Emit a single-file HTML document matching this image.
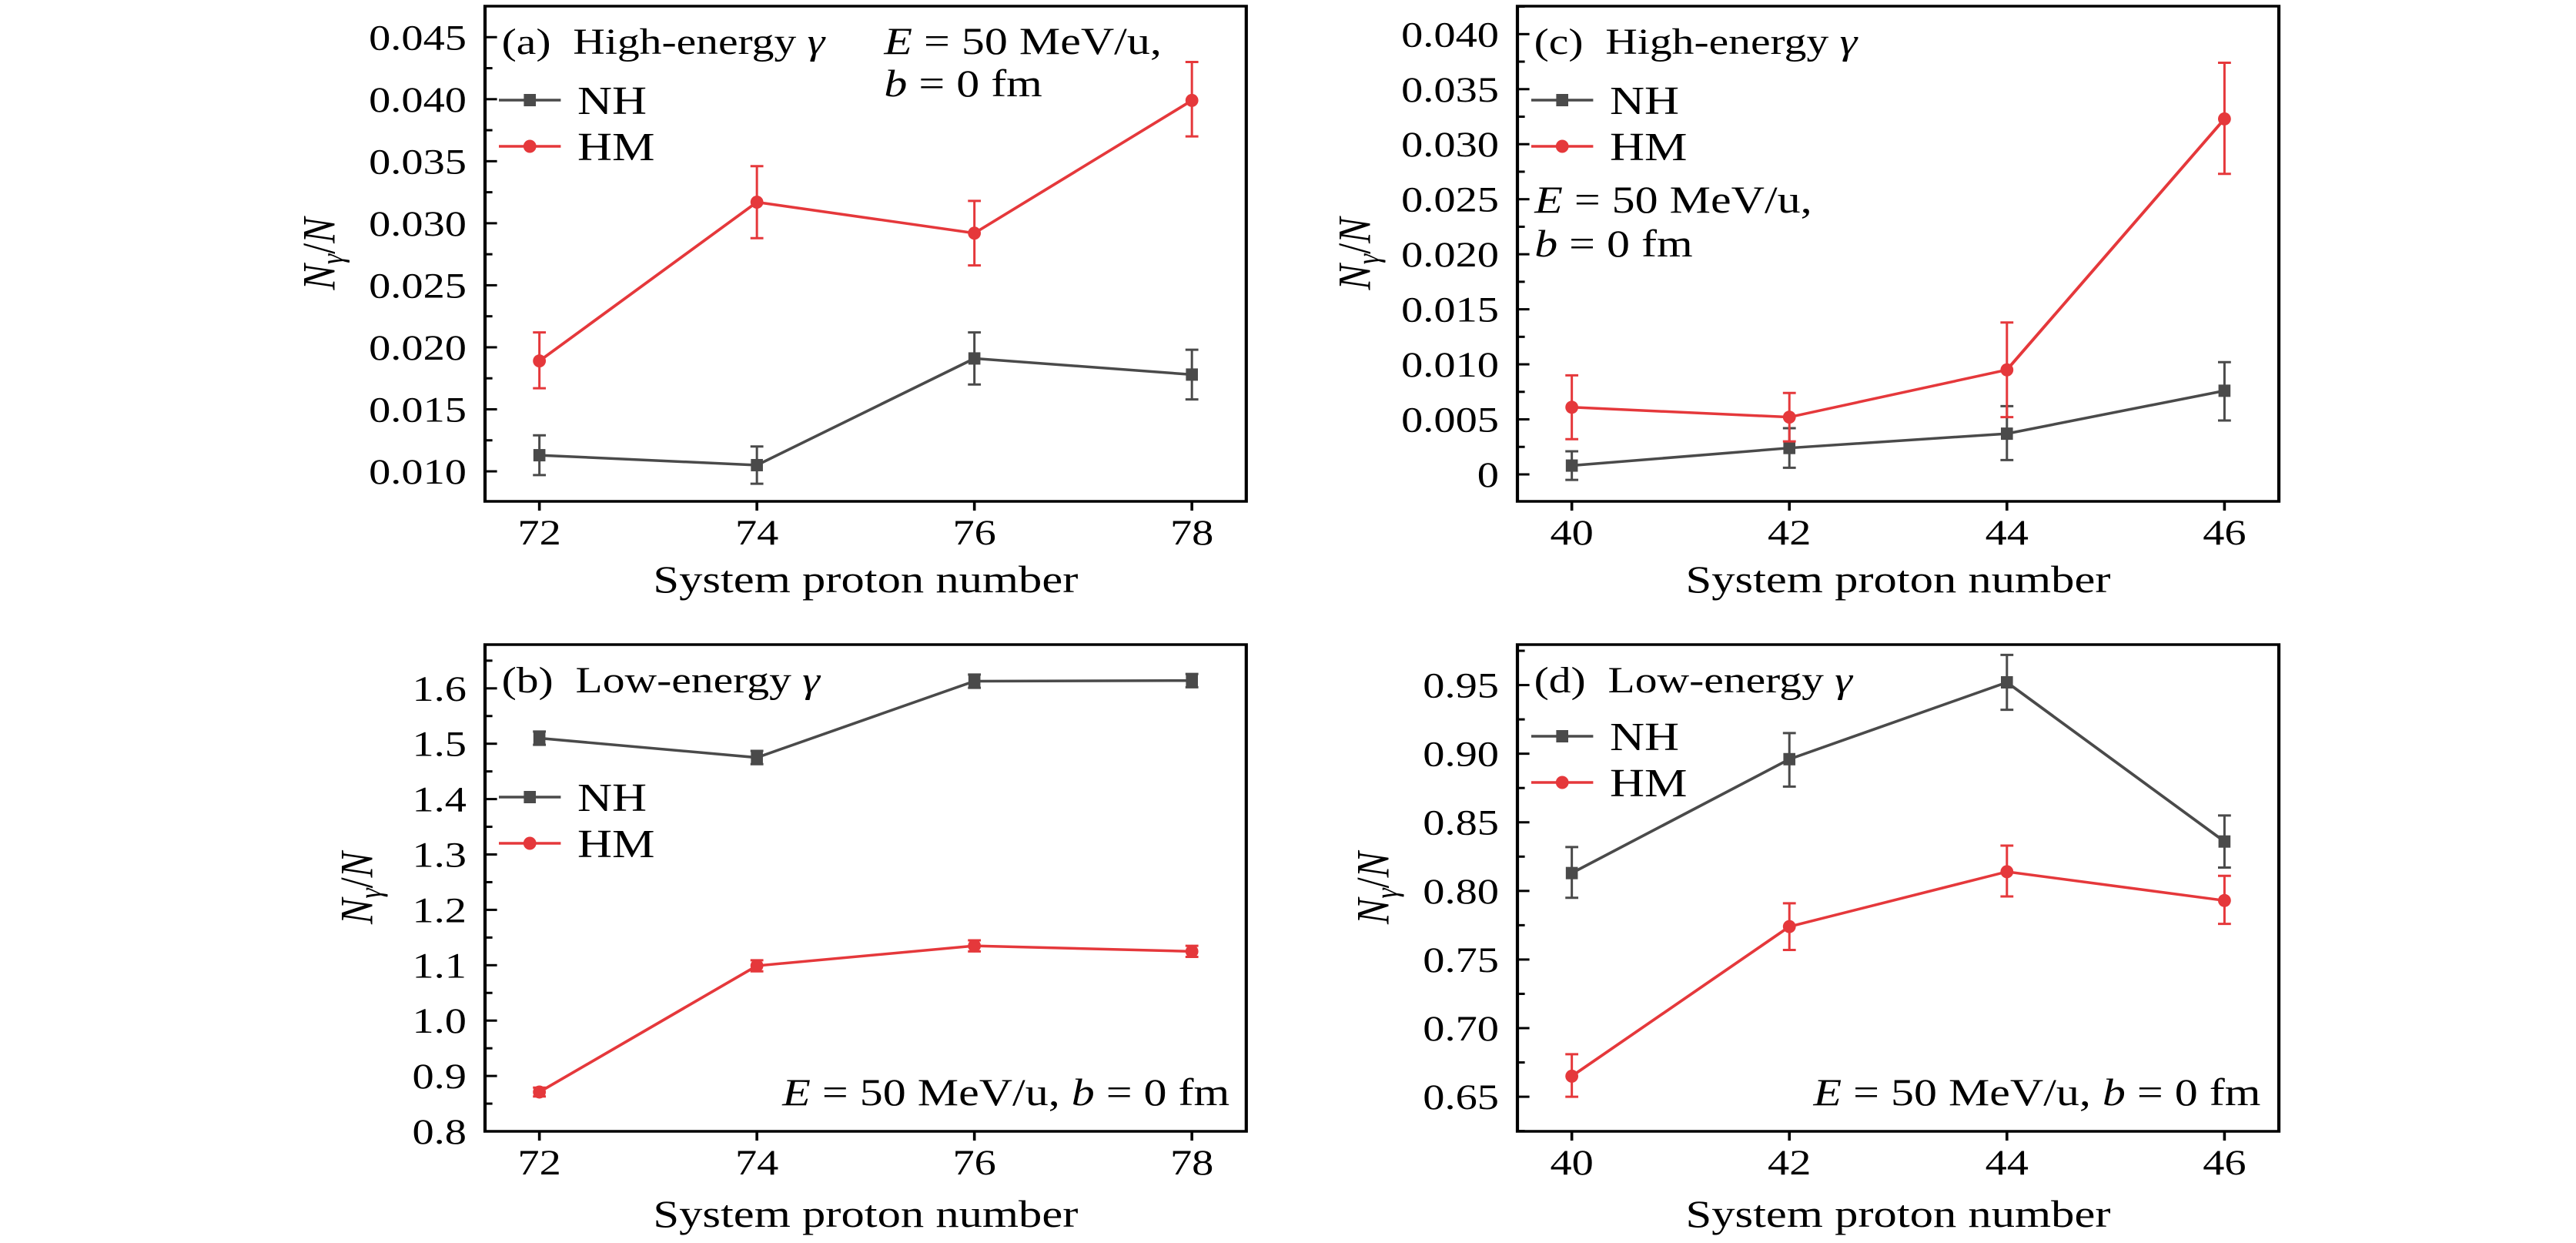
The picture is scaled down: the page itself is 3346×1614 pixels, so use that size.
<!DOCTYPE html>
<html><head><meta charset="utf-8"><style>
html,body{margin:0;padding:0;background:#fff;}
svg{display:block;}
text{font-family:"Liberation Serif",serif;fill:#000;}
</style></head><body>
<svg id="fig" width="3346" height="1614" viewBox="0 0 2788.33 1614" preserveAspectRatio="none" xmlns="http://www.w3.org/2000/svg"></svg>
<script>
// Panel (a): high-energy gamma, Z = 72..78
const catsA = [72, 74, 76, 78];
const nhA = [0.0113, 0.0105, 0.0191, 0.0178];
const nhAlo = [0.0097, 0.0090, 0.0170, 0.0158];
const nhAhi = [0.0129, 0.0120, 0.0212, 0.0198];
const hmA = [0.0189, 0.0317, 0.0292, 0.0399];
const hmAlo = [0.0167, 0.0288, 0.0266, 0.0370];
const hmAhi = [0.0212, 0.0346, 0.0318, 0.0430];
const yTicksA = [0.010, 0.015, 0.020, 0.025, 0.030, 0.035, 0.040, 0.045];
const yLabelsA = ["0.010","0.015","0.020","0.025","0.030","0.035","0.040","0.045"];
// Panel (b): low-energy gamma
const catsB = [72, 74, 76, 78];
const nhB = [1.510, 1.475, 1.613, 1.614];
const nhBlo = [1.498, 1.463, 1.601, 1.602];
const nhBhi = [1.522, 1.487, 1.625, 1.626];
const hmB = [0.871, 1.099, 1.135, 1.125];
const hmBlo = [0.863, 1.089, 1.125, 1.115];
const hmBhi = [0.879, 1.109, 1.145, 1.135];
const yTicksB = [0.8, 0.9, 1.0, 1.1, 1.2, 1.3, 1.4, 1.5, 1.6];
const yLabelsB = ["0.8","0.9","1.0","1.1","1.2","1.3","1.4","1.5","1.6"];
// Panel (c): high-energy gamma, Z = 40..46
const catsC = [40, 42, 44, 46];
const nhC = [0.0008, 0.0024, 0.0037, 0.0076];
const nhClo = [-0.0005, 0.0006, 0.0013, 0.0049];
const nhChi = [0.0021, 0.0042, 0.0062, 0.0102];
const hmC = [0.0061, 0.0052, 0.0095, 0.0323];
const hmClo = [0.0032, 0.0030, 0.0052, 0.0273];
const hmChi = [0.0090, 0.0074, 0.0138, 0.0374];
const yTicksC = [0, 0.005, 0.010, 0.015, 0.020, 0.025, 0.030, 0.035, 0.040];
const yLabelsC = ["0","0.005","0.010","0.015","0.020","0.025","0.030","0.035","0.040"];
// Panel (d): low-energy gamma, Z = 40..46
const catsD = [40, 42, 44, 46];
const nhD = [0.813, 0.896, 0.952, 0.836];
const nhDlo = [0.795, 0.876, 0.932, 0.817];
const nhDhi = [0.832, 0.915, 0.972, 0.855];
const hmD = [0.665, 0.774, 0.814, 0.793];
const hmDlo = [0.650, 0.757, 0.796, 0.776];
const hmDhi = [0.681, 0.791, 0.833, 0.811];
const yTicksD = [0.65, 0.70, 0.75, 0.80, 0.85, 0.90, 0.95];
const yLabelsD = ["0.65","0.70","0.75","0.80","0.85","0.90","0.95"];

const NS = "http://www.w3.org/2000/svg";
const svg = document.getElementById("fig");
const GRAY = "#4a4a4a", RED = "#e5383b";
function mk(tag, attrs, parent) {
  const e = document.createElementNS(NS, tag);
  for (const k in attrs) e.setAttribute(k, attrs[k]);
  (parent || svg).appendChild(e);
  return e;
}

function panel(cfg) {
  const g = mk("g", {});
  
  
  const L = cfg.L, R = cfg.R, T = cfg.T, B = cfg.B;
  const xs = v => L + (v - cfg.xmin) / (cfg.xmax - cfg.xmin) * (R - L);
  const ys = v => B - (v - cfg.ymin) / (cfg.ymax - cfg.ymin) * (B - T);
  const fr = mk("rect", {x: L, y: T, width: R - L, height: B - T, fill: "none", stroke: "#000", "stroke-width": 3.5}, g);
  
  
  const step = cfg.yTicks[1] - cfg.yTicks[0];
  cfg.yTicks.forEach((t, i) => {
    const y = ys(t);
    mk("line", {x1: L, x2: L + 13, y1: y, y2: y, stroke: "#000", "stroke-width": 3}, g);
    const tl = mk("text", {x: L - 20, y: y + 16, "text-anchor": "end", "font-size": 47}, g);
    tl.textContent = cfg.yLabels[i];
    
    
  });
  for (let i = -1; i < cfg.yTicks.length; i++) {
    const v = cfg.yTicks[0] + (i + 0.5) * step;
    if (v > cfg.ymin && v < cfg.ymax) {
      const y = ys(v);
      mk("line", {x1: L, x2: L + 8, y1: y, y2: y, stroke: "#000", "stroke-width": 3}, g);
    }
  }
  cfg.cats.forEach(c => {
    const x = xs(c);
    mk("line", {x1: x, x2: x, y1: B, y2: B + 12, stroke: "#000", "stroke-width": 3}, g);
    const tl = mk("text", {x: x, y: B + 56, "text-anchor": "middle", "font-size": 47}, g);
    tl.textContent = String(c);
    
    
  });
  const xt = mk("text", {x: (L + R) / 2, y: B + cfg.xtOff, "text-anchor": "middle", "font-size": 50, textLength: 460, lengthAdjust: "spacingAndGlyphs"}, g);
  xt.textContent = "System proton number";
  
  
  const yt = mk("text", {transform: `translate(${cfg.ylx},${(T + B) / 2}) rotate(-90)`, "text-anchor": "middle", "font-size": 50}, g);
  yt.innerHTML = '<tspan font-style="italic">N</tspan><tspan font-style="italic" font-size="34" dy="9">γ</tspan><tspan dy="-9">/</tspan><tspan font-style="italic">N</tspan>';
  
  
  function series(vals, lo, hi, color, marker, name) {
    const sg = mk("g", {}, g);
    
    
    cfg.cats.forEach((c, i) => {
      const x = xs(c);
      mk("line", {x1: x, x2: x, y1: ys(lo[i]), y2: ys(hi[i]), stroke: color, "stroke-width": 2.5}, sg);
      mk("line", {x1: x - 7, x2: x + 7, y1: ys(lo[i]), y2: ys(lo[i]), stroke: color, "stroke-width": 3}, sg);
      mk("line", {x1: x - 7, x2: x + 7, y1: ys(hi[i]), y2: ys(hi[i]), stroke: color, "stroke-width": 3}, sg);
    });
    const pts = cfg.cats.map((c, i) => xs(c) + "," + ys(vals[i])).join(" ");
    mk("polyline", {points: pts, fill: "none", stroke: color, "stroke-width": 3.5}, sg);
    cfg.cats.forEach((c, i) => {
      const x = xs(c), y = ys(vals[i]);
      let m;
      if (marker === "sq") m = mk("rect", {x: x - 6.5, y: y - 8, width: 13, height: 16, fill: color}, sg);
      else m = mk("ellipse", {cx: x, cy: y, rx: 7, ry: 8.5, fill: color}, sg);
      
      
    });
  }
  series(cfg.nh, cfg.nhlo, cfg.nhhi, GRAY, "sq", "nh-series");
  series(cfg.hm, cfg.hmlo, cfg.hmhi, RED, "ci", "hm-series");
  const lx = L + 15;
  [["NH", GRAY, "sq", cfg.legY], ["HM", RED, "ci", cfg.legY + 60]].forEach(([lab, col, mkr, y]) => {
    const lg = mk("g", {}, g);
    
    
    mk("line", {x1: lx, x2: lx + 67, y1: y, y2: y, stroke: col, "stroke-width": 3.5}, lg);
    if (mkr === "sq") mk("rect", {x: lx + 27, y: y - 8, width: 13, height: 16, fill: col}, lg);
    else mk("ellipse", {cx: lx + 33.5, cy: y, rx: 7, ry: 8.5, fill: col}, lg);
    const t = mk("text", {x: lx + 85, y: y + 18, "font-size": 52}, lg);
    t.textContent = lab;
  });
  const tt = mk("text", {x: L + 18, y: cfg.titleY, "font-size": 48}, g);
  tt.innerHTML = cfg.title;
  
  
  cfg.notes.forEach(n => {
    const t = mk("text", {x: n.x, y: n.y, "font-size": 50, "text-anchor": n.anchor || "start"}, g);
    t.innerHTML = n.html;
    
    
  });
}

const E1 = '<tspan font-style="italic">E</tspan> = 50 MeV/u,';
const B1 = '<tspan font-style="italic">b</tspan> = 0 fm';
const EB = '<tspan font-style="italic">E</tspan> = 50 MeV/u, <tspan font-style="italic">b</tspan> = 0 fm';

panel({name: "panel-a", L: 525, R: 1349, T: 8, B: 651, xmin: 71.5, xmax: 78.5, ymin: 0.00758, ymax: 0.0475,
  cats: catsA, nh: nhA, nhlo: nhAlo, nhhi: nhAhi, hm: hmA, hmlo: hmAlo, hmhi: hmAhi,
  yTicks: yTicksA, yLabels: yLabelsA, ylx: 362, legY: 130, xtOff: 118,
  title: '(a)&#160;&#160;High-energy <tspan font-style="italic">γ</tspan>', titleY: 70,
  notes: [{x: 957, y: 70, html: E1}, {x: 957, y: 125, html: B1}]});
panel({name: "panel-b", L: 525, R: 1349, T: 837, B: 1469, xmin: 71.5, xmax: 78.5, ymin: 0.8, ymax: 1.679,
  cats: catsB, nh: nhB, nhlo: nhBlo, nhhi: nhBhi, hm: hmB, hmlo: hmBlo, hmhi: hmBhi,
  yTicks: yTicksB, yLabels: yLabelsB, ylx: 403, legY: 1035, xtOff: 124,
  title: '(b)&#160;&#160;Low-energy <tspan font-style="italic">γ</tspan>', titleY: 899,
  notes: [{x: 1331, y: 1435, html: EB, anchor: "end"}]});
panel({name: "panel-c", L: 1642.5, R: 2466.7, T: 8, B: 651, xmin: 39.5, xmax: 46.5, ymin: -0.00245, ymax: 0.04254,
  cats: catsC, nh: nhC, nhlo: nhClo, nhhi: nhChi, hm: hmC, hmlo: hmClo, hmhi: hmChi,
  yTicks: yTicksC, yLabels: yLabelsC, ylx: 1483, legY: 130, xtOff: 118,
  title: '(c)&#160;&#160;High-energy <tspan font-style="italic">γ</tspan>', titleY: 70,
  notes: [{x: 1661, y: 276, html: E1}, {x: 1661, y: 333, html: B1}]});
panel({name: "panel-d", L: 1642.5, R: 2466.7, T: 837, B: 1469, xmin: 39.5, xmax: 46.5, ymin: 0.6248, ymax: 0.9795,
  cats: catsD, nh: nhD, nhlo: nhDlo, nhhi: nhDhi, hm: hmD, hmlo: hmDlo, hmhi: hmDhi,
  yTicks: yTicksD, yLabels: yLabelsD, ylx: 1503, legY: 956, xtOff: 124,
  title: '(d)&#160;&#160;Low-energy <tspan font-style="italic">γ</tspan>', titleY: 899,
  notes: [{x: 2447, y: 1435, html: EB, anchor: "end"}]});
</script>
</body></html>
